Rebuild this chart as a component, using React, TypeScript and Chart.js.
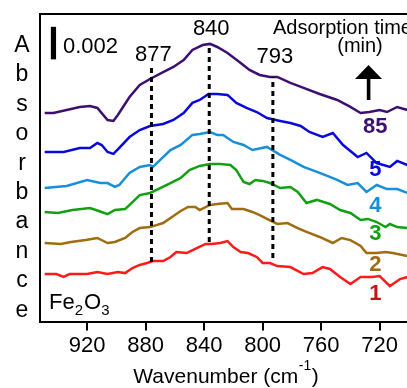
import React, { useEffect, useRef } from "react";
import { Chart, registerables } from "chart.js";

Chart.register(...registerables);

const FONT = '"Liberation Sans", Arial, Helvetica, sans-serif';

// Axis ranges: wavenumber (cm^-1, reversed) and absorbance in mAbs (offset spectra)
const xMax = 952.2;
const xMin = 701.3;
const yMin = -0.03;
const yMax = 18.89;
const xTicks = [920, 880, 840, 800, 760, 720];

// Spectra (wavenumber, absorbance x1000 with vertical offset)
const wn85 = [949, 943, 925, 918, 913, 906, 902, 899, 891, 884, 877, 868, 861, 854, 848, 841, 836, 831, 824, 815, 809, 802, 795, 790, 781, 772, 761, 749, 740, 733, 727, 720, 715, 708, 701];
const abs85 = [12.8, 12.8, 13.17, 13.23, 13.11, 12.37, 12.31, 12.68, 13.78, 14.52, 14.89, 15.32, 15.63, 16.06, 16.68, 16.98, 17.05, 16.86, 16.49, 15.88, 15.45, 15.14, 15.02, 15.02, 14.65, 14.34, 13.97, 13.6, 13.17, 12.8, 12.86, 12.98, 12.86, 13.17, 12.98];

const wn5 = [949, 936, 925, 918, 913, 910, 906, 902, 898, 891, 884, 877, 868, 861, 854, 848, 843, 837, 831, 824, 818, 811, 804, 797, 788, 781, 774, 768, 759, 752, 745, 735, 729, 722, 713, 708, 701];
const abs5 = [10.4, 10.4, 10.65, 10.65, 10.95, 10.83, 10.4, 10.28, 10.65, 11.32, 11.75, 12.0, 12.12, 12.37, 12.8, 13.42, 13.6, 13.97, 13.97, 13.91, 13.42, 13.11, 12.86, 12.49, 12.31, 12.18, 12.0, 11.63, 11.32, 11.57, 10.83, 10.09, 10.34, 9.72, 9.48, 9.85, 9.6];

const wn4 = [949, 934, 920, 911, 906, 901, 898, 891, 884, 877, 875, 870, 863, 856, 848, 843, 836, 831, 827, 820, 813, 807, 797, 788, 781, 772, 761, 749, 742, 735, 729, 722, 715, 708, 701];
const abs4 = [8.18, 8.31, 8.68, 8.49, 8.49, 8.25, 8.37, 9.11, 9.48, 9.6, 9.48, 9.91, 10.52, 10.83, 11.45, 11.51, 11.63, 11.45, 11.45, 11.02, 10.83, 10.52, 10.71, 10.22, 9.91, 9.48, 9.11, 8.68, 8.37, 8.49, 7.94, 8.37, 8.12, 8.12, 7.88];

const wn3 = [949, 940, 930, 918, 912, 906, 901, 894, 889, 884, 877, 870, 863, 856, 850, 843, 836, 829, 822, 818, 813, 809, 805, 800, 795, 788, 781, 776, 770, 763, 754, 747, 740, 733, 728, 722, 716, 713, 708, 701];
const abs3 = [6.71, 6.65, 6.83, 6.95, 6.77, 6.58, 6.83, 6.89, 7.32, 7.75, 7.88, 8.18, 8.49, 8.8, 9.29, 9.54, 9.66, 9.66, 9.6, 9.29, 8.55, 8.43, 8.68, 8.62, 8.49, 8.18, 8.25, 7.94, 7.26, 7.45, 7.2, 6.83, 6.65, 6.22, 6.28, 6.09, 5.78, 5.97, 5.78, 5.72];

const wn2 = [949, 938, 931, 921, 913, 906, 901, 894, 889, 884, 877, 868, 861, 856, 851, 846, 843, 836, 831, 824, 821, 813, 807, 802, 797, 790, 783, 776, 770, 761, 752, 746, 740, 733, 729, 722, 716, 711, 701];
const abs2 = [4.8, 4.74, 4.86, 4.98, 5.11, 4.8, 4.86, 5.11, 5.48, 5.72, 5.78, 6.03, 6.46, 6.77, 7.02, 7.02, 6.83, 7.14, 7.2, 7.26, 6.89, 6.89, 6.71, 6.52, 6.28, 5.97, 6.03, 5.72, 5.48, 5.17, 4.8, 5.11, 4.98, 4.62, 4.18, 4.18, 4.25, 4.18, 4.0];

const wn1 = [949, 941, 936, 932, 920, 913, 906, 899, 894, 889, 884, 879, 875, 868, 863, 859, 852, 845, 839, 835, 829, 824, 820, 815, 810, 804, 800, 795, 790, 781, 772, 766, 759, 754, 747, 740, 733, 725, 720, 713, 706, 701];
const abs1 = [2.89, 2.89, 2.71, 2.89, 2.89, 3.02, 2.89, 3.02, 2.95, 3.26, 3.45, 3.57, 3.69, 3.69, 3.94, 4.25, 4.18, 4.49, 4.74, 4.74, 4.8, 4.92, 4.55, 4.25, 4.18, 3.94, 3.57, 3.57, 3.38, 3.32, 2.89, 2.95, 3.32, 3.2, 2.71, 2.28, 2.71, 2.71, 2.77, 2.15, 2.58, 2.71];

// Series labels (adsorption time, min)
const seriesNames = ["1", "2", "3", "4", "5", "85"];
const seriesWn = [wn1, wn2, wn3, wn4, wn5, wn85];
const seriesAbs = [abs1, abs2, abs3, abs4, abs5, abs85];
const lineColors = ["#ff1a1a", "#a06c10", "#12a012", "#1890d8", "#0a0ad8", "#3b1070"];
const labelColors = ["#cc1010", "#a06c10", "#12a012", "#1890d8", "#0a0ad8", "#3b1070"];
const labelWn = 723;
const labelAbs = [1.66, 3.45, 5.35, 7.08, 9.29, 11.94];

// Peak markers
const peakNames = ["877", "840", "793"];
const peakWn = [876, 836.5, 793];
const peakTop = [15.57, 16.98, 15.02];
const peakBottom = [3.63, 4.86, 3.88];
const peakLabelAbs = [16.02, 17.6, 15.88];

// Scale bar
const scaleBarWn = 943;
const scaleBarBase = 16.1;
const scaleBarSize = 2; // mAbs -> 0.002
const scaleBarText = "0.002";

const yTitle = "Absorbance";

const overlay = {
  id: "overlay",
  afterDraw(chart: any) {
    const { ctx } = chart;
    const x = chart.scales.x;
    const y = chart.scales.y;
    ctx.save();
    ctx.fillStyle = "#000";

    // stacked y title
    ctx.font = `23px ${FONT}`;
    ctx.textAlign = "center";
    ctx.textBaseline = "alphabetic";
    yTitle.split("").forEach((ch, i) => ctx.fillText(ch, 22, 52 + i * 29.4));

    // x title with superscript
    const main = "Wavenumber (cm";
    const sup = "-1";
    const close = ")";
    ctx.font = `21px ${FONT}`;
    const w1 = ctx.measureText(main).width;
    const w3 = ctx.measureText(close).width;
    ctx.font = `14px ${FONT}`;
    const w2 = ctx.measureText(sup).width;
    const total = w1 + w2 + w3 + 1;
    let sx = 226 - total / 2;
    ctx.textAlign = "left";
    ctx.font = `21px ${FONT}`;
    ctx.fillText(main, sx, 383);
    sx += w1 + 0.5;
    ctx.font = `14px ${FONT}`;
    ctx.fillText(sup, sx, 370);
    sx += w2 + 0.5;
    ctx.font = `21px ${FONT}`;
    ctx.fillText(close, sx, 383);

    // Fe2O3
    let fx = 49;
    const fb = 309;
    const parts: [string, boolean][] = [["Fe", false], ["2", true], ["O", false], ["3", true]];
    parts.forEach(([t, sub]) => {
      ctx.font = sub ? `15px ${FONT}` : `22px ${FONT}`;
      ctx.fillText(t, fx, sub ? fb + 6 : fb);
      fx += ctx.measureText(t).width + (sub ? 1 : 0);
    });

    // scale bar
    const bx = x.getPixelForValue(scaleBarWn);
    const bTop = y.getPixelForValue(scaleBarBase + scaleBarSize);
    const bBot = y.getPixelForValue(scaleBarBase);
    ctx.fillRect(bx - 2.6, bTop, 5.2, bBot - bTop);
    ctx.font = `22px ${FONT}`;
    ctx.fillText(scaleBarText, bx + 9.5, bBot - 6);

    // peak labels
    ctx.textAlign = "center";
    peakNames.forEach((t, i) => {
      ctx.fillText(t, x.getPixelForValue(peakWn[i]) + 2, y.getPixelForValue(peakLabelAbs[i]));
    });

    // legend title + arrow
    ctx.font = `20px ${FONT}`;
    ctx.textAlign = "left";
    ctx.fillText("Adsorption time", 273, 34);
    ctx.textAlign = "center";
    ctx.fillText("(min)", 360, 51.5);
    ctx.beginPath();
    ctx.moveTo(368.5, 65);
    ctx.lineTo(382, 79);
    ctx.lineTo(355, 79);
    ctx.closePath();
    ctx.fill();
    ctx.fillRect(366.8, 78, 3.6, 22);

    // series labels
    ctx.font = `bold 22px ${FONT}`;
    ctx.textBaseline = "middle";
    seriesNames.forEach((t, i) => {
      ctx.fillStyle = labelColors[i];
      ctx.fillText(t, x.getPixelForValue(labelWn), y.getPixelForValue(labelAbs[i]));
    });
    ctx.restore();
  },
};

export default function App() {
  const ref = useRef<HTMLCanvasElement>(null);
  useEffect(() => {
    document.body.style.margin = "0";
    const peakSets = peakNames.map((_, i) => ({
      data: [
        { x: peakWn[i], y: peakBottom[i] },
        { x: peakWn[i], y: peakTop[i] },
      ],
      borderColor: "#000",
      borderWidth: 3,
      borderDash: [5, 4],
      pointRadius: 0,
      showLine: true,
    }));
    const specSets = seriesNames.map((_, i) => ({
      data: seriesWn[i].map((w, j) => ({ x: w, y: seriesAbs[i][j] })),
      borderColor: lineColors[i],
      borderWidth: 2.5,
      pointRadius: 0,
      showLine: true,
      tension: 0,
    }));
    const chart = new Chart(ref.current as HTMLCanvasElement, {
      type: "scatter",
      data: { datasets: [...peakSets, ...specSets] as any },
      options: {
        responsive: false,
        animation: false,
        events: [],
        layout: { padding: 0 },
        plugins: { legend: { display: false }, tooltip: { enabled: false } },
        scales: {
          x: {
            type: "linear",
            position: "bottom",
            reverse: true,
            min: xMin,
            max: xMax,
            afterBuildTicks: (s: any) => {
              s.ticks = xTicks.map((v) => ({ value: v }));
            },
            afterFit: (s: any) => {
              s.height = 66.5;
            },
            ticks: {
              color: "#000",
              font: { family: FONT, size: 22 },
              padding: 2,
              maxRotation: 0,
              autoSkip: false,
            },
            grid: {
              display: true,
              drawOnChartArea: false,
              drawTicks: true,
              tickLength: 9,
              tickWidth: 2,
              tickColor: "#000",
              color: "#000",
              lineWidth: 2,
            },
            border: { display: true, color: "#000", width: 2 },
          },
          xTop: {
            type: "linear",
            position: "top",
            reverse: true,
            min: xMin,
            max: xMax,
            ticks: { display: false },
            grid: { display: false, drawTicks: false },
            border: { display: true, color: "#000", width: 2 },
            afterFit: (s: any) => {
              s.height = 14;
            },
          },
          y: {
            type: "linear",
            position: "left",
            min: yMin,
            max: yMax,
            ticks: { display: false },
            grid: { display: false, drawTicks: false },
            border: { display: true, color: "#000", width: 2 },
            afterFit: (s: any) => {
              s.width = 40;
            },
          },
        },
      } as any,
      plugins: [overlay],
    });
    return () => chart.destroy();
  }, []);
  return (
    <canvas
      ref={ref}
      width={407}
      height={388}
      style={{ display: "block", width: 407, height: 388 }}
    />
  );
}
